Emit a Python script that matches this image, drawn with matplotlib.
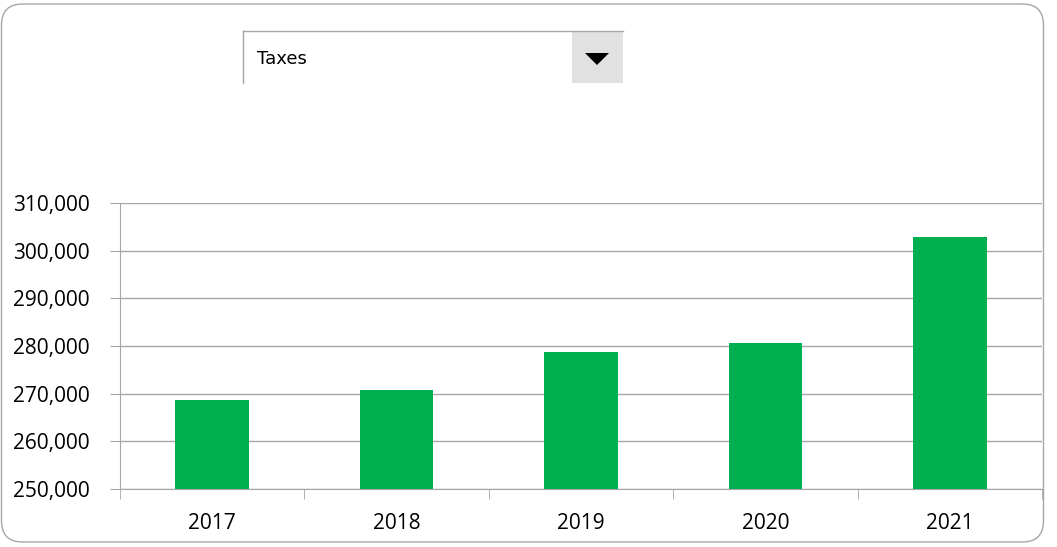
import matplotlib.pyplot as plt
from matplotlib.patches import FancyBboxPatch, Rectangle, Polygon
from matplotlib.ticker import FuncFormatter

years = ["2017", "2018", "2019", "2020", "2021"]
taxes = [268600, 270750, 278700, 280600, 302900]
selected = "Taxes"

fig = plt.figure(figsize=(10.57, 5.47), dpi=100)
W, H = 1057, 547

# outer rounded frame
frame = FancyBboxPatch((1.5 / W, 5 / H), 1042 / W, 538 / H,
                       boxstyle="round,pad=0,rounding_size=0.02",
                       transform=fig.transFigure, fill=False,
                       edgecolor="#a6a6a6", linewidth=1.0,
                       mutation_aspect=W / H)
fig.patches.append(frame)

# dropdown box
x0, x1, yb, yt = 243 / W, 623 / W, 1 - 83 / H, 1 - 31 / H
fig.add_artist(plt.Line2D([x0, x1], [yt, yt], transform=fig.transFigure,
                          color="#a6a6a6", lw=1))
fig.add_artist(plt.Line2D([x0, x0], [yb, yt], transform=fig.transFigure,
                          color="#a6a6a6", lw=1))
fig.add_artist(Rectangle((572 / W, yb), 51 / W, yt - yb, transform=fig.transFigure,
                         facecolor="#e1e1e1", edgecolor="none"))
fig.add_artist(Polygon([(585 / W, 1 - 53 / H), (609 / W, 1 - 53 / H), (597 / W, 1 - 65 / H)],
                       closed=True, transform=fig.transFigure,
                       facecolor="black", edgecolor="none"))
fig.text(257 / W, 1 - 59 / H, selected, fontsize=13, va="center",
         family="DejaVu Sans")

ax = fig.add_axes([120 / W, 1 - 489 / H, 922 / W, 286 / H])
ax.bar(range(len(years)), taxes, width=0.4, color="#00b050", zorder=3)
ax.set_xlim(-0.5, len(years) - 0.5)
ax.set_ylim(250000, 310000)
ax.set_yticks(range(250000, 310001, 10000))
ax.yaxis.set_major_formatter(FuncFormatter(lambda v, p: f"{int(v):,}"))
ax.set_xticks(range(len(years)))
ax.set_xticklabels(years)
ax.set_xticks([i - 0.5 for i in range(len(years) + 1)], minor=True)
ax.tick_params(axis="x", which="major", length=0, pad=17)
ax.tick_params(axis="x", which="minor", length=7, color="#a6a6a6")
ax.tick_params(axis="y", length=7, color="#a6a6a6", pad=15)
ax.tick_params(labelsize=15)
for lab in ax.get_xticklabels() + ax.get_yticklabels():
    lab.set_family("Open Sans")
ax.grid(axis="y", color="#a6a6a6", linewidth=1, zorder=0)
for s in ["top", "right"]:
    ax.spines[s].set_visible(False)
ax.spines["left"].set_color("#a6a6a6")
ax.spines["bottom"].set_color("#a6a6a6")

fig.savefig("out.png", dpi=100)
